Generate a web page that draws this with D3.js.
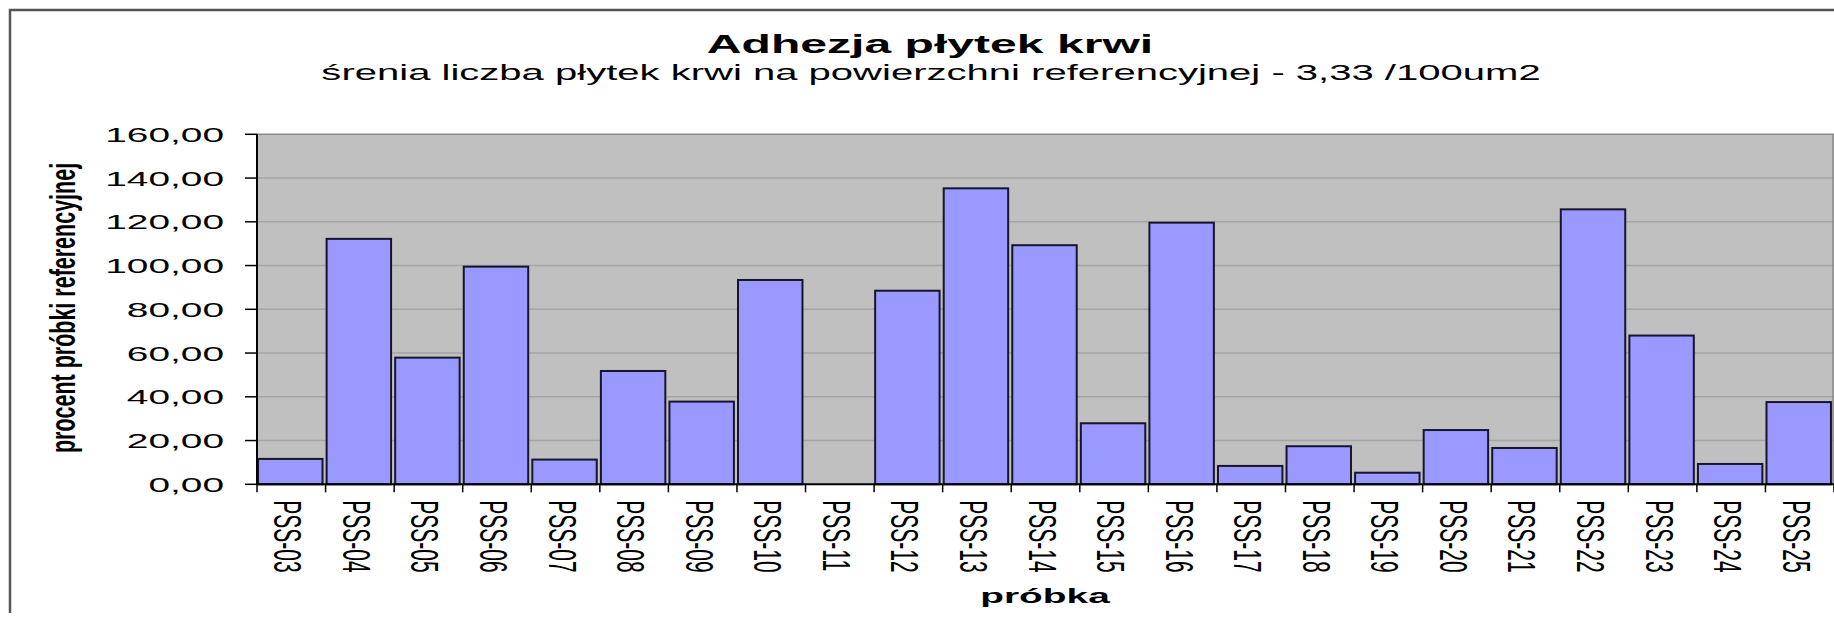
<!DOCTYPE html>
<html>
<head>
<meta charset="utf-8">
<script src="https://cdn.jsdelivr.net/npm/d3@7"></script>
<style>
  html, body { margin: 0; padding: 0; background: #ffffff; overflow: hidden; }
  svg { display: block; }
  text { font-family: "Liberation Sans", Arial, sans-serif; fill: #000; }
</style>
</head>
<body>
<svg id="chart" width="1834" height="621"></svg>
<script>
// Sample identifiers along the category axis
const categories = ["PSS-03", "PSS-04", "PSS-05", "PSS-06", "PSS-07", "PSS-08", "PSS-09", "PSS-10",
  "PSS-11", "PSS-12", "PSS-13", "PSS-14", "PSS-15", "PSS-16", "PSS-17", "PSS-18", "PSS-19",
  "PSS-20", "PSS-21", "PSS-22", "PSS-23", "PSS-24", "PSS-25"];

// Platelet adhesion, percent of the reference sample
const values = [11.6, 112.2, 57.9, 99.5, 11.3, 51.8, 37.8, 93.4, 0, 88.5, 135.3, 109.3,
  27.9, 119.6, 8.4, 17.4, 5.3, 24.8, 16.6, 125.7, 68.0, 9.3, 37.6];

// Value axis ticks
const yTicks = [0, 20, 40, 60, 80, 100, 120, 140, 160];

const titleText = "Adhezja płytek krwi";
const subtitleText = "śrenia liczba płytek krwi na powierzchni referencyjnej - 3,33 /100um2";
const yTitleText = "procent próbki referencyjnej";
const xTitleText = "próbka";

const svg = d3.select("#chart");

// Horizontal glyph stretch used for the text on this wide chart
const SX = 1.85;

const plot = { left: 257, right: 1834, top: 134.3, bottom: 484.3 };

const x = d3.scaleBand()
  .domain(categories)
  .range([plot.left, plot.right])
  .paddingInner(0.06)
  .paddingOuter(0.03);

const y = d3.scaleLinear()
  .domain([0, 160])
  .range([plot.bottom, plot.top]);

const fmt = v => d3.format(".2f")(v).replace(".", ",");

// Outer chart frame (left and top edges visible)
svg.append("path")
  .attr("d", `M10,613 L10,10 L1834,10`)
  .attr("fill", "none")
  .attr("stroke", "#555")
  .attr("stroke-width", 2.5);

// Plot area background
svg.append("rect")
  .attr("x", plot.left).attr("y", plot.top)
  .attr("width", plot.right - plot.left).attr("height", plot.bottom - plot.top)
  .attr("fill", "#c0c0c0");

// Horizontal gridlines
svg.append("g").selectAll("line")
  .data(yTicks.filter(t => t > 0))
  .join("line")
  .attr("x1", plot.left).attr("x2", plot.right)
  .attr("y1", d => y(d)).attr("y2", d => y(d))
  .attr("stroke", d => d === 160 ? "#8a8a8a" : "#a4a4a4")
  .attr("stroke-width", 1.5);

// Right edge of plot area
svg.append("line")
  .attr("x1", plot.right - 1).attr("x2", plot.right - 1)
  .attr("y1", plot.top).attr("y2", plot.bottom)
  .attr("stroke", "#8a8a8a").attr("stroke-width", 1.5);

// Bars
svg.append("g").selectAll("rect")
  .data(categories.map((c, i) => ({ c, v: values[i] })))
  .join("rect")
  .attr("x", d => x(d.c) - 1)
  .attr("y", d => y(d.v))
  .attr("width", x.bandwidth())
  .attr("height", d => y(0) - y(d.v))
  .attr("fill", "#9999ff")
  .attr("stroke", d => d.v > 0 ? "#15152e" : "none")
  .attr("stroke-width", 2);

// Value axis
const yAxis = svg.append("g");
yAxis.append("line")
  .attr("x1", plot.left).attr("x2", plot.left)
  .attr("y1", plot.top).attr("y2", plot.bottom)
  .attr("stroke", "#000").attr("stroke-width", 2);
yAxis.selectAll("line.tick")
  .data(yTicks)
  .join("line")
  .attr("class", "tick")
  .attr("x1", plot.left - 12).attr("x2", plot.left)
  .attr("y1", d => y(d)).attr("y2", d => y(d))
  .attr("stroke", "#000").attr("stroke-width", 1.5);
yAxis.selectAll("text")
  .data(yTicks)
  .join("text")
  .attr("transform", d => `translate(${plot.left - 33},${y(d)}) scale(${SX},1)`)
  .attr("text-anchor", "end")
  .attr("dy", "0.36em")
  .attr("font-size", 21)
  .text(fmt);

// Category axis: ticks sit on the band boundaries
const step = x.step();
const half = x.paddingInner() * step / 2;
const boundaries = categories.map(c => x(c) - half)
  .concat([x(categories[categories.length - 1]) + x.bandwidth() + half]);
const xAxis = svg.append("g");
xAxis.append("line")
  .attr("x1", plot.left).attr("x2", plot.right)
  .attr("y1", plot.bottom).attr("y2", plot.bottom)
  .attr("stroke", "#000").attr("stroke-width", 2);
xAxis.selectAll("line.tick")
  .data(boundaries)
  .join("line")
  .attr("class", "tick")
  .attr("x1", d => d).attr("x2", d => d)
  .attr("y1", plot.bottom).attr("y2", plot.bottom + 8)
  .attr("stroke", "#000").attr("stroke-width", 1.5);
xAxis.selectAll("text")
  .data(categories)
  .join("text")
  .attr("transform", c => `translate(${x(c) + x.bandwidth() / 2 - 17},${plot.bottom + 16}) scale(${SX},1) rotate(90)`)
  .attr("text-anchor", "start")
  .attr("font-size", 21)
  .text(c => c);

// Titles
svg.append("text")
  .attr("transform", `translate(930,53) scale(${SX},1)`)
  .attr("text-anchor", "middle")
  .attr("font-size", 26)
  .attr("font-weight", "bold")
  .text(titleText);

svg.append("text")
  .attr("transform", `translate(931,80) scale(1.82,1)`)
  .attr("text-anchor", "middle")
  .attr("font-size", 22)
  .text(subtitleText);

svg.append("text")
  .attr("transform", `translate(75,308) scale(1.6,1) rotate(-90)`)
  .attr("text-anchor", "middle")
  .attr("font-size", 21.5)
  .attr("font-weight", "bold")
  .text(yTitleText);

svg.append("text")
  .attr("transform", `translate(1045,603) scale(${SX},1)`)
  .attr("text-anchor", "middle")
  .attr("font-size", 21)
  .attr("font-weight", "bold")
  .text(xTitleText);
</script>
</body>
</html>
